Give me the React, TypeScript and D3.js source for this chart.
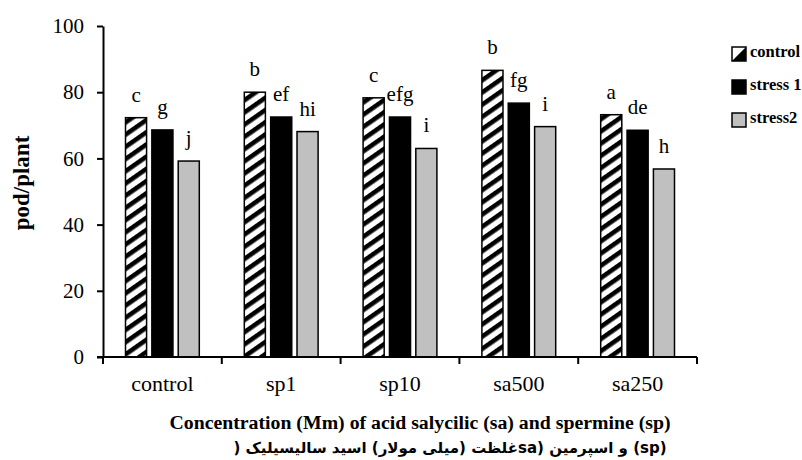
import { useEffect, useRef } from 'react'
import * as d3 from 'd3'

const categories = ['control', 'sp1', 'sp10', 'sa500', 'sa250']
const seriesNames = ['control', 'stress 1', 'stress2']
const controlValues = [72.3, 80.0, 78.3, 86.6, 73.2]
const stress1Values = [68.6, 72.5, 72.5, 76.7, 68.5]
const stress2Values = [59.2, 68.1, 63.0, 69.6, 56.8]
const controlLetters = ['c', 'b', 'c', 'b', 'a']
const stress1Letters = ['g', 'ef', 'efg', 'fg', 'de']
const stress2Letters = ['j', 'hi', 'i', 'i', 'h']
const yTicks = [0, 20, 40, 60, 80, 100]

const serif = '"Liberation Serif", "Times New Roman", serif'

export default function App() {
  const ref = useRef<SVGSVGElement | null>(null)

  useEffect(() => {
    const svg = d3.select(ref.current)
    svg.selectAll('*').remove()

    const left = 103, right = 697, top = 26, bottom = 357

    const x = d3.scaleBand<string>().domain(categories).range([left, right]).padding(0)
    const sub = d3.scaleBand<string>()
      .domain(seriesNames)
      .range([22.5, x.bandwidth() - 22.5])
      .paddingInner(0.2)
      .paddingOuter(0)
    const y = d3.scaleLinear().domain([0, 100]).range([bottom, top])

    const fills = ['url(#hatch)', '#000', '#c0c0c0']
    const values = [controlValues, stress1Values, stress2Values]
    const letters = [controlLetters, stress1Letters, stress2Letters]

    // hatch pattern
    const pat = svg.append('defs').append('pattern')
      .attr('id', 'hatch')
      .attr('patternUnits', 'userSpaceOnUse')
      .attr('width', 10)
      .attr('height', 10)
      .attr('patternTransform', 'rotate(55)')
    pat.append('rect').attr('width', 10).attr('height', 10).attr('fill', '#fff')
    pat.append('rect').attr('width', 4.6).attr('height', 10).attr('fill', '#000')

    const rows = categories.flatMap((c, i) =>
      seriesNames.map((s, j) => ({ c, s, j, v: values[j][i], label: letters[j][i] })))

    // bars
    svg.append('g').selectAll('rect')
      .data(rows)
      .join('rect')
      .attr('x', d => x(d.c)! + sub(d.s)!)
      .attr('y', d => y(d.v))
      .attr('width', sub.bandwidth())
      .attr('height', d => y(0) - y(d.v))
      .attr('fill', d => fills[d.j])
      .attr('stroke', '#000')
      .attr('stroke-width', 1.5)

    // letters above bars
    svg.append('g').selectAll('text')
      .data(rows)
      .join('text')
      .attr('x', d => x(d.c)! + sub(d.s)! + sub.bandwidth() / 2)
      .attr('y', d => y(d.v) - 16)
      .attr('text-anchor', 'middle')
      .style('font-family', serif)
      .style('font-size', '21px')
      .text(d => d.label)

    // y axis
    svg.append('g')
      .attr('transform', `translate(${left},0)`)
      .call(d3.axisLeft(y).tickValues(yTicks).tickSize(6).tickSizeOuter(0).tickPadding(13))
      .call(g => g.select('.domain').attr('stroke-width', 2))
      .call(g => g.selectAll('.tick line').attr('stroke-width', 2))
      .call(g => g.selectAll('.tick text').style('font-family', serif).style('font-size', '21px').attr('fill', '#000'))

    // x axis
    const xa = svg.append('g')
    xa.append('line')
      .attr('x1', left - 6).attr('x2', right)
      .attr('y1', bottom).attr('y2', bottom)
      .attr('stroke', '#000').attr('stroke-width', 2)
    const bounds = [...categories.map(c => x(c)!), right]
    xa.selectAll('.xt')
      .data(bounds)
      .join('line')
      .attr('x1', d => d).attr('x2', d => d)
      .attr('y1', bottom).attr('y2', bottom + 7)
      .attr('stroke', '#000').attr('stroke-width', 2)
    xa.selectAll('text')
      .data(categories)
      .join('text')
      .attr('x', d => x(d)! + x.bandwidth() / 2)
      .attr('y', 391)
      .attr('text-anchor', 'middle')
      .style('font-family', serif)
      .style('font-size', '22px')
      .text(d => d)

    // axis titles
    svg.append('text')
      .attr('transform', 'translate(29,183) rotate(-90)')
      .attr('text-anchor', 'middle')
      .style('font-family', serif)
      .style('font-size', '23px')
      .style('font-weight', 'bold')
      .text('pod/plant')

    svg.append('text')
      .attr('x', 420)
      .attr('y', 429)
      .attr('text-anchor', 'middle')
      .style('font-family', serif)
      .style('font-size', '19.8px')
      .style('font-weight', 'bold')
      .text('Concentration (Mm) of acid salycilic (sa) and spermine (sp)')

    svg.append('text')
      .attr('x', 450)
      .attr('y', 453)
      .attr('text-anchor', 'middle')
      .attr('direction', 'rtl')
      .style('font-family', '"DejaVu Sans", sans-serif')
      .style('font-size', '15px')
      .style('font-weight', 'bold')
      .text('(sp) و اسپرمین (saغلظت (میلی مولار) اسید سالیسیلیک (')

    // legend
    const lg = svg.append('g').attr('transform', 'translate(732,47)')
    const item = lg.selectAll('g')
      .data(seriesNames)
      .join('g')
      .attr('transform', (_, i) => `translate(0,${i * 33})`)
    item.append('rect')
      .attr('width', 14).attr('height', 14)
      .attr('fill', (_, i) => (i === 0 ? '#fff' : fills[i]))
      .attr('stroke', '#000').attr('stroke-width', 1.5)
    item.filter((_, i) => i === 0).append('path')
      .attr('d', 'M14,0L14,14L0,14Z')
      .attr('fill', '#000')
    item.append('text')
      .attr('x', 18)
      .attr('y', 10)
      .style('font-family', serif)
      .style('font-size', '16.5px')
      .style('font-weight', 'bold')
      .text(d => d)
  }, [])

  return (
    <svg
      ref={ref}
      width={802}
      height={460}
      style={{ position: 'absolute', left: 0, top: 0, background: '#fff', display: 'block' }}
    />
  )
}
